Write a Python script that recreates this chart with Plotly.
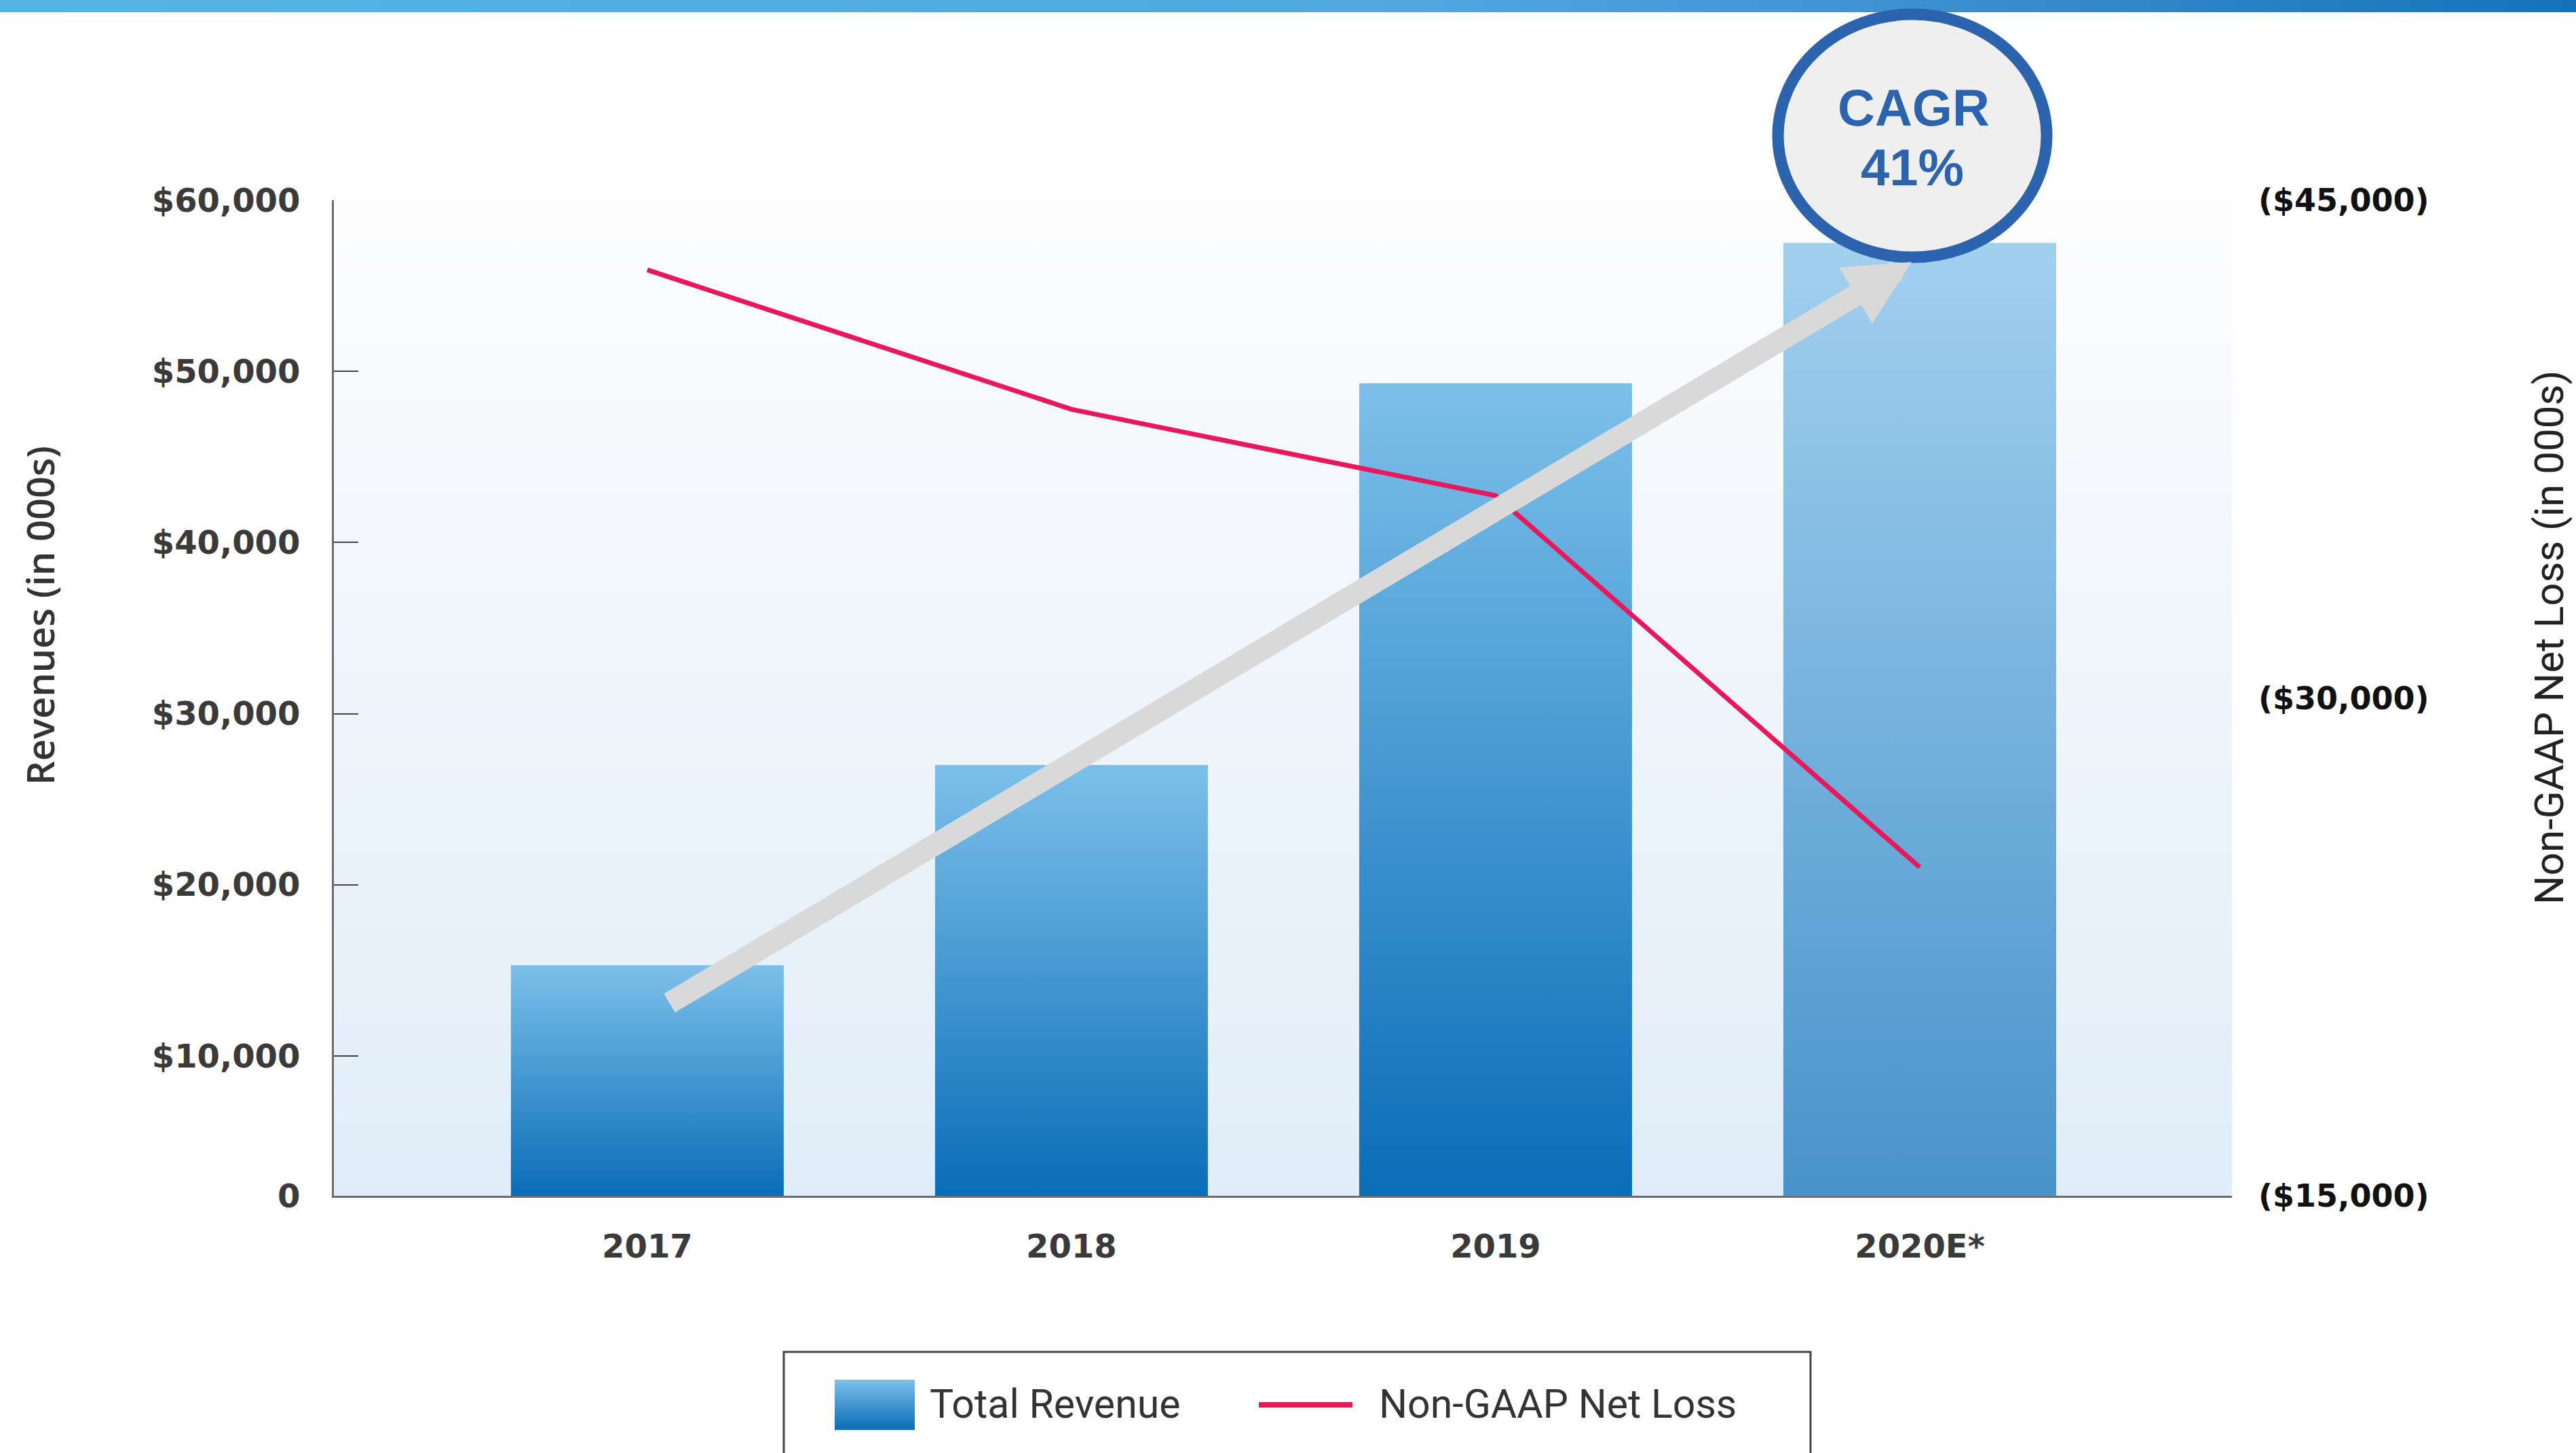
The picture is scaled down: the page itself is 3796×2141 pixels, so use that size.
import base64
import plotly.graph_objects as go

# ---------------- data ----------------
categories = ["2017", "2018", "2019", "2020E*"]
revenue = [15300, 27000, 49300, 57500]          # Total Revenue ($000s)
net_loss = [42900, 38700, 36100, 24900]         # Non-GAAP Net Loss ($000s, shown in parentheses)

left_tick_vals = [1824, 10000, 20000, 30000, 40000, 50000, 60000]
left_tick_text = ["0", "$10,000", "$20,000", "$30,000", "$40,000", "$50,000", "$60,000"]
right_tick_vals = [15000, 30000, 45000]
right_tick_text = ["($15,000)", "($30,000)", "($45,000)"]

bar_top_colors = ["#7CC0EA", "#7CC0EA", "#7CC0EA", "#A2D0EF"]
bar_bottom_colors = ["#0A6DB7", "#0A6DB7", "#0A6DB7", "#4893CB"]

cagr_title = "CAGR"
cagr_value = "41%"
left_title = "Revenues (in 000s)"
right_title = "Non-GAAP Net Loss (in 000s)"
legend_names = ["Total Revenue", "Non-GAAP Net Loss"]

# ---------------- layout geometry ----------------
W, H = 3796, 2141
L, R, T, B = 492, 3289, 295, 1762
PW, PH = R - L, B - T
Y_MIN, Y_MAX = left_tick_vals[0], left_tick_vals[-1]
HALF_W = 0.3216
RED = "#E8185A"
BLUE_DARK = "#2C63AE"


def px(x):
    return (x - L) / PW


def py(y):
    return (B - y) / PH


def svg_gradient(stops, horizontal=False):
    x2, y2 = ("1", "0") if horizontal else ("0", "1")
    st = "".join(f'<stop offset="{o}" stop-color="{c}"/>' for o, c in stops)
    svg = (
        '<svg xmlns="http://www.w3.org/2000/svg" width="100" height="100" '
        'viewBox="0 0 100 100" preserveAspectRatio="none">'
        f'<defs><linearGradient id="g" x1="0" y1="0" x2="{x2}" y2="{y2}">{st}</linearGradient></defs>'
        '<rect x="0" y="0" width="100" height="100" fill="url(#g)"/></svg>'
    )
    return "data:image/svg+xml;base64," + base64.b64encode(svg.encode()).decode()


fig = go.Figure()

# bars with vertical gradient fill
for i, (cat, v) in enumerate(zip(categories, revenue)):
    fig.add_trace(go.Scatter(
        x=[i - HALF_W, i - HALF_W, i + HALF_W, i + HALF_W, i - HALF_W],
        y=[0, v, v, 0, 0],
        mode="lines",
        line=dict(width=0),
        fill="toself",
        fillgradient=dict(type="vertical",
                          colorscale=[[0, bar_bottom_colors[i]], [1, bar_top_colors[i]]],
                          start=Y_MIN, stop=v),
        name=legend_names[0],
        legendgroup="rev",
        showlegend=False,
        hoveron="fills",
        text=f"{cat}: ${v:,}",
        hoverinfo="text",
    ))

# net loss line on secondary axis
fig.add_trace(go.Scatter(
    x=list(range(len(categories))),
    y=net_loss,
    mode="lines",
    line=dict(color=RED, width=7),
    name=legend_names[1],
    yaxis="y2",
    showlegend=False,
))

tick_font = dict(family="DejaVu Sans", size=48, color="#3A3A3A", weight="bold")

fig.update_layout(
    width=W, height=H,
    margin=dict(l=L, r=W - R, t=T, b=H - B, pad=0),
    paper_bgcolor="white",
    plot_bgcolor="rgba(0,0,0,0)",
    showlegend=False,
    xaxis=dict(
        range=[-0.739, 3.736],
        tickvals=list(range(len(categories))),
        ticktext=categories,
        showgrid=False, zeroline=False,
        showline=True, linecolor="#6E6E6E", linewidth=3,
        ticks="", tickfont=tick_font, ticklabelstandoff=30,
        fixedrange=True,
    ),
    yaxis=dict(
        range=[Y_MIN, Y_MAX],
        tickvals=left_tick_vals, ticktext=left_tick_text,
        showgrid=False, zeroline=False,
        showline=True, linecolor="#6E6E6E", linewidth=3,
        ticks="inside", ticklen=36, tickwidth=2, tickcolor="#444444",
        tickfont=tick_font, ticklabelstandoff=37,
        fixedrange=True,
    ),
    yaxis2=dict(
        range=[right_tick_vals[0], right_tick_vals[-1]],
        tickvals=right_tick_vals, ticktext=right_tick_text,
        overlaying="y", side="right",
        showgrid=False, zeroline=False, showline=False, ticks="",
        tickfont=dict(family="DejaVu Sans", size=46, color="#111111", weight="bold"),
        ticklabelstandoff=38,
        fixedrange=True,
    ),
)

images = [
    # plot background gradient
    dict(source=svg_gradient([(0, "#FDFDFE"), (1, "#E0EDF8")]),
         xref="paper", yref="paper", x=0, y=1, sizex=1, sizey=1,
         sizing="stretch", xanchor="left", yanchor="top", layer="below"),
    # top banner
    dict(source=svg_gradient([(0, "#55B4E6"), (0.55, "#50A8DF"), (0.75, "#3C90D1"), (1, "#1672B8")],
                             horizontal=True),
         xref="paper", yref="paper", x=px(0), y=py(0), sizex=W / PW, sizey=18 / PH,
         sizing="stretch", xanchor="left", yanchor="top", layer="below"),
    # legend swatch
    dict(source=svg_gradient([(0, "#7CC0EA"), (1, "#0A6DB7")]),
         xref="paper", yref="paper", x=px(1230), y=py(2033),
         sizex=(1348 - 1230) / PW, sizey=(2107 - 2033) / PH,
         sizing="stretch", xanchor="left", yanchor="top", layer="above"),
]
fig.update_layout(images=images)

shapes = [
    # legend box
    dict(type="rect", xref="paper", yref="paper",
         x0=px(1155), x1=px(2668), y0=py(2170), y1=py(1992),
         line=dict(color="#444444", width=3), fillcolor="rgba(0,0,0,0)", layer="above"),
    # legend line swatch
    dict(type="line", xref="paper", yref="paper",
         x0=px(1855), x1=px(1993), y0=py(2070), y1=py(2070),
         line=dict(color=RED, width=8), layer="above"),
    # CAGR circle
    dict(type="circle", xref="paper", yref="paper",
         x0=px(2818 - 198), x1=px(2818 + 198), y0=py(200 + 179), y1=py(200 - 179),
         line=dict(color=BLUE_DARK, width=17), fillcolor="#EFEFEF", layer="above"),
]
fig.update_layout(shapes=shapes)

cagr_font = dict(family="Liberation Sans", size=76, color=BLUE_DARK, weight="bold")
legend_font = dict(family="Roboto", size=59, color="#333333")

annotations = [
    # growth arrow
    dict(xref="paper", yref="paper", x=px(2817), y=py(386),
         ax=985 - 2817, ay=1479 - 386, axref="pixel", ayref="pixel",
         text="", showarrow=True, arrowhead=2, arrowsize=0.6, arrowwidth=32,
         arrowcolor="#D9D9D9", standoff=0, startstandoff=0),
    # CAGR text
    dict(xref="paper", yref="paper", x=px(2820), y=py(158), text=cagr_title,
         showarrow=False, xanchor="center", yanchor="middle", font=cagr_font),
    dict(xref="paper", yref="paper", x=px(2818), y=py(247), text=cagr_value,
         showarrow=False, xanchor="center", yanchor="middle", font=cagr_font),
    # axis titles
    dict(xref="paper", yref="paper", x=px(58), y=py(907), text=left_title, textangle=-90,
         showarrow=False, xanchor="center", yanchor="middle",
         font=dict(family="Open Sans", size=56, color="#333333", weight=600)),
    dict(xref="paper", yref="paper", x=px(3756), y=py(940), text=right_title, textangle=-90,
         showarrow=False, xanchor="center", yanchor="middle",
         font=dict(family="Roboto", size=60, color="#222222")),
    # legend labels
    dict(xref="paper", yref="paper", x=px(1368), y=py(2068), text=legend_names[0],
         showarrow=False, xanchor="left", yanchor="middle", font=legend_font),
    dict(xref="paper", yref="paper", x=px(2030), y=py(2068), text=legend_names[1],
         showarrow=False, xanchor="left", yanchor="middle", font=legend_font),
]
fig.update_layout(annotations=annotations)

fig.write_html(
    "out.html",
    include_plotlyjs=True,
    config={"displayModeBar": False, "responsive": False},
    post_script="document.body.style.margin='0';document.body.style.overflow='hidden';",
)
